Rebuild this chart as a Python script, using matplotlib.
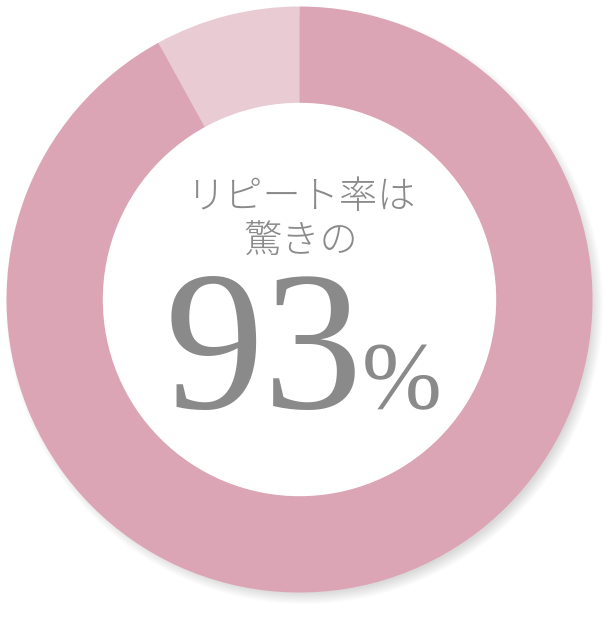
import numpy as np
import matplotlib
matplotlib.use("Agg")
import matplotlib.pyplot as plt

labels = ["その他", "リピート"]
values = [8, 92]
colors = ["#e9cbd4", "#dca5b5"]
title_line1 = "リピート率は"
title_line2 = "驚きの"
big_value = "93"
big_unit = "%"

W, H = 616, 618
fig = plt.figure(figsize=(W / 100, H / 100), dpi=100)
ax = fig.add_axes([0, 0, 1, 1])
ax.set_xlim(0, W)
ax.set_ylim(0, H)
ax.set_aspect("equal")
ax.axis("off")

cx, cy = 299.5, H - 299.5
R = 293
inner = 196

# soft drop shadow
yy, xx = np.mgrid[0:H, 0:W]
sx, sy = cx + 5, cy - 6
d = np.hypot(xx + 0.5 - sx, (H - yy - 0.5) - sy)
alpha = 0.32 * np.clip((R + 6 - d) / 12.0, 0, 1)
img = np.zeros((H, W, 4))
img[..., 0:3] = 0.55
img[..., 3] = alpha
ax.imshow(img, extent=(0, W, 0, H), origin="upper", zorder=0, interpolation="bilinear")

ax.pie(values, colors=colors, startangle=90, counterclock=True,
       radius=R, center=(cx, cy), wedgeprops=dict(width=R - inner, linewidth=0),
       frame=True)
ax.add_patch(plt.Circle((cx, cy), inner, color="white", zorder=3))
ax.set_xlim(0, W)
ax.set_ylim(0, H)
ax.axis("off")

tc = "#8a8a8a"
cjk = ["Noto Sans CJK JP", "DejaVu Sans"]
ax.text(302, H - 197, title_line1, ha="center", va="center", fontsize=27.5,
        family=cjk, color=tc, weight="light", zorder=5)
ax.text(301, H - 241, title_line2, ha="center", va="center", fontsize=27.5,
        family=cjk, color=tc, weight="light", zorder=5)
ax.text(363, H - 408, big_value, ha="right", va="baseline", fontsize=143,
        family=["Liberation Serif"], color=tc, zorder=5)
ax.text(362, H - 408, big_unit, ha="left", va="baseline", fontsize=69,
        family=["Liberation Serif"], color=tc, zorder=5)

fig.savefig("out.png", dpi=100, facecolor="white")
